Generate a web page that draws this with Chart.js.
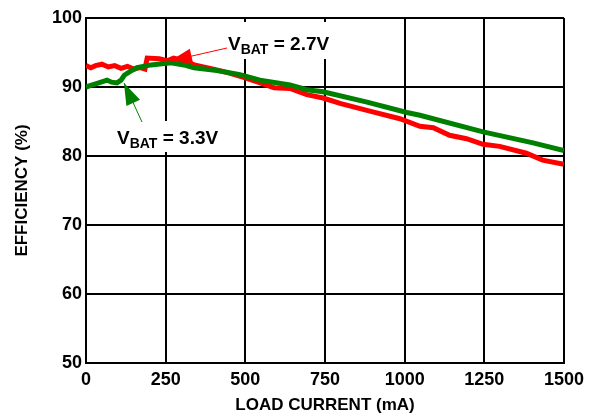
<!DOCTYPE html>
<html>
<head>
<meta charset="utf-8">
<script src="https://cdn.jsdelivr.net/npm/chart.js@4.4.1/dist/chart.umd.min.js"></script>
<style>
  html, body { margin: 0; padding: 0; background: #ffffff; }
  #wrap { width: 590px; height: 419px; }
</style>
</head>
<body>
<div id="wrap"><canvas id="effCanvas" width="590" height="419"></canvas></div>
<script>
// efficiency vs load current
const xTicks = [0, 250, 500, 750, 1000, 1250, 1500];
const yTicks = [50, 60, 70, 80, 90, 100];

// VBAT = 2.7V (red)
const load27 = [0, 15, 30, 50, 70, 90, 110, 130, 150, 170, 185, 192, 230, 255, 275, 300, 340, 400, 450, 495, 540, 590, 640, 693, 744, 800, 900, 985, 1048, 1090, 1141, 1194, 1246, 1298, 1382, 1433, 1500];
const eff27  = [93.1, 92.8, 93.1, 93.3, 92.9, 93.1, 92.7, 93.0, 92.6, 92.8, 92.6, 94.2, 94.1, 93.8, 94.2, 93.9, 93.2, 92.6, 92.0, 91.4, 90.7, 89.9, 89.8, 88.9, 88.4, 87.6, 86.4, 85.4, 84.3, 84.1, 83.0, 82.5, 81.7, 81.4, 80.4, 79.4, 78.8];

// VBAT = 3.3V (green)
const load33 = [0, 20, 40, 66, 80, 97, 110, 120, 140, 160, 204, 267, 307, 339, 411, 483, 546, 640, 693, 744, 882, 1007, 1048, 1246, 1403, 1500];
const eff33  = [90.0, 90.3, 90.6, 91.0, 90.7, 90.6, 91.0, 91.7, 92.3, 92.8, 93.2, 93.5, 93.2, 92.8, 92.4, 91.8, 91.0, 90.3, 89.6, 89.3, 87.8, 86.3, 85.9, 83.5, 81.9, 80.8];

const FONT = '"Liberation Sans", Arial, sans-serif';

const toPoints = (xs, ys) => xs.map((x, i) => ({ x: x, y: ys[i] }));

// labels with white boxes and arrows
const calloutPlugin = {
  id: 'callouts',
  afterDatasetsDraw(chart) {
    const ctx = chart.ctx;
    const notes = [
      { color: '#ff0000', box: [222, 22, 124, 37], text: '= 2.7V', x: 228, y: 50, from: [227, 48], tip: [170, 61] },
      { color: '#008000', box: [112, 121, 112, 31], text: '= 3.3V', x: 117, y: 144, from: [142, 122], tip: [124, 83] }
    ];
    ctx.save();
    notes.forEach(n => {
      ctx.fillStyle = '#ffffff';
      ctx.fillRect(n.box[0], n.box[1], n.box[2], n.box[3]);

      // arrow shaft
      ctx.strokeStyle = n.color;
      ctx.lineWidth = 1;
      ctx.beginPath();
      ctx.moveTo(n.from[0], n.from[1]);
      ctx.lineTo(n.tip[0], n.tip[1]);
      ctx.stroke();

      // arrow head
      const ang = Math.atan2(n.tip[1] - n.from[1], n.tip[0] - n.from[0]);
      const len = 22, half = 7.5;
      const bx = n.tip[0] - len * Math.cos(ang), by = n.tip[1] - len * Math.sin(ang);
      ctx.fillStyle = n.color;
      ctx.beginPath();
      ctx.moveTo(n.tip[0], n.tip[1]);
      ctx.lineTo(bx + half * Math.sin(ang), by - half * Math.cos(ang));
      ctx.lineTo(bx - half * Math.sin(ang), by + half * Math.cos(ang));
      ctx.closePath();
      ctx.fill();

      // V_BAT = ...
      ctx.fillStyle = '#000000';
      ctx.textBaseline = 'alphabetic';
      ctx.textAlign = 'left';
      ctx.font = 'bold 19px ' + FONT;
      ctx.fillText('V', n.x, n.y);
      let cx = n.x + ctx.measureText('V').width;
      ctx.font = 'bold 14px ' + FONT;
      ctx.fillText('BAT', cx, n.y + 3.5);
      cx += ctx.measureText('BAT').width;
      ctx.font = 'bold 19px ' + FONT;
      ctx.fillText(' ' + n.text, cx, n.y);
    });
    ctx.restore();
  }
};

const ctx = document.getElementById('effCanvas').getContext('2d');
new Chart(ctx, {
  type: 'line',
  data: {
    datasets: [
      {
        label: 'VBAT = 2.7V',
        data: toPoints(load27, eff27),
        borderColor: '#ff0000',
        borderWidth: 5,
        pointRadius: 0,
        tension: 0,
        order: 2
      },
      {
        label: 'VBAT = 3.3V',
        data: toPoints(load33, eff33),
        borderColor: '#008000',
        borderWidth: 5,
        pointRadius: 0,
        tension: 0,
        order: 1
      }
    ]
  },
  options: {
    responsive: false,
    animation: false,
    layout: { padding: { top: 18, right: 26, left: 0, bottom: 0 } },
    plugins: {
      legend: { display: false },
      tooltip: { enabled: false }
    },
    scales: {
      x: {
        type: 'linear',
        min: 0,
        max: 1500,
        afterBuildTicks: (scale) => { scale.ticks = xTicks.map(v => ({ value: v })); },
        afterFit: (scale) => { scale.height = 56; },
        grid: { color: '#000000', lineWidth: 2, drawTicks: false },
        border: { display: true, color: '#000000', width: 2 },
        ticks: {
          color: '#000000',
          padding: 6,
          maxRotation: 0,
          callback: (v) => String(v),
          font: { family: FONT, size: 18, weight: 'bold' }
        },
        title: {
          display: true,
          text: 'LOAD CURRENT (mA)',
          color: '#000000',
          padding: { top: 0, bottom: 3 },
          font: { family: FONT, size: 17, weight: 'bold' }
        }
      },
      y: {
        min: 50,
        max: 100,
        afterBuildTicks: (scale) => { scale.ticks = yTicks.map(v => ({ value: v })); },
        afterFit: (scale) => { scale.width = 86; },
        grid: { color: '#000000', lineWidth: 2, drawTicks: false },
        border: { display: true, color: '#000000', width: 2 },
        ticks: {
          color: '#000000',
          padding: 4,
          callback: (v) => String(v),
          font: { family: FONT, size: 18, weight: 'bold' }
        },
        title: {
          display: true,
          text: 'EFFICIENCY (%)',
          color: '#000000',
          padding: { top: 12, bottom: 0 },
          font: { family: FONT, size: 17, weight: 'bold' }
        }
      }
    }
  },
  plugins: [calloutPlugin]
});
</script>
</body>
</html>
